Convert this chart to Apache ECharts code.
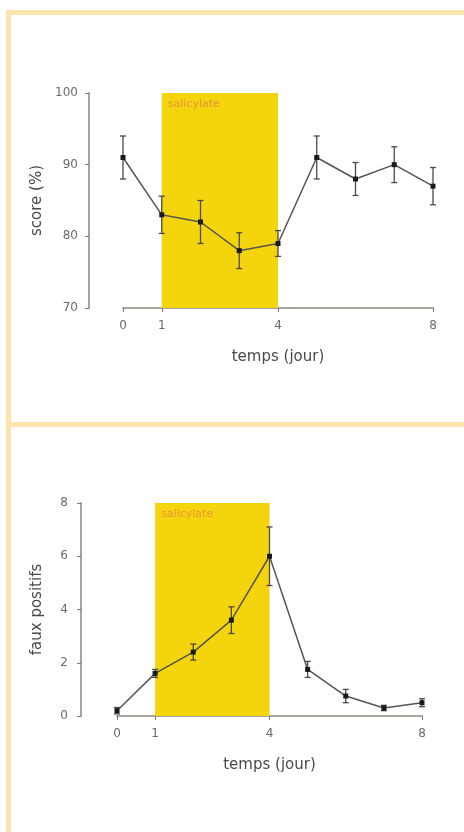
<!DOCTYPE html>
<html>
<head>
<meta charset="utf-8">
<script src="https://cdn.jsdelivr.net/npm/echarts@6.0.0/dist/echarts.min.js"></script>
<style>
  html, body { margin: 0; padding: 0; background: #fff; }
  #wrap { position: relative; width: 464px; height: 832px; overflow: hidden; }
  #chart { position: absolute; left: 0; top: 0; width: 464px; height: 832px; }
  /* cadres orange pâle */
  .bl { position: absolute; left: 6px; top: 10px; width: 5px; height: 822px; background: #fde4ad; }
  .bt { position: absolute; left: 6px; width: 458px; height: 5px; background: #fde4ad; }
</style>
</head>
<body>
<div id="wrap">
  <div id="chart"></div>
  <div class="bl"></div>
  <div class="bt" style="top:10px"></div>
  <div class="bt" style="top:422px"></div>
</div>
<script>
// jours
const days = [0, 1, 2, 3, 4, 5, 6, 7, 8];
const xTicks = [0, 1, 4, 8];
// période sous salicylate
const treatStart = 1;
const treatEnd = 4;
const treatLabel = "salicylate";

// score (%)
const scoreMean = [91, 83, 82, 78, 79, 91, 88, 90, 87];
const scoreErr = [3, 2.6, 3, 2.5, 1.8, 3, 2.3, 2.5, 2.6];

// faux positifs
const fpMean = [0.2, 1.6, 2.4, 3.6, 6.0, 1.75, 0.75, 0.3, 0.5];
const fpErr = [0.12, 0.15, 0.3, 0.5, 1.1, 0.3, 0.25, 0.1, 0.15];

const FONT = "DejaVu Sans";
const axisGray = "#aaa39c";
const textGray = "#6a6a6a";
const yellow = "#f4d40c";

function errRender(params, api) {
  const x = api.value(0);
  const top = api.coord([x, api.value(2)]);
  const bot = api.coord([x, api.value(1)]);
  const w = 3;
  const st = { stroke: "#4a4a4a", lineWidth: 1.3 };
  return {
    type: "group",
    children: [
      { type: "line", shape: { x1: top[0], y1: top[1], x2: bot[0], y2: bot[1] }, style: st },
      { type: "line", shape: { x1: top[0] - w, y1: top[1], x2: top[0] + w, y2: top[1] }, style: st },
      { type: "line", shape: { x1: bot[0] - w, y1: bot[1], x2: bot[0] + w, y2: bot[1] }, style: st },
    ],
  };
}

function xAxisOf(gridIndex) {
  return {
    type: "value",
    gridIndex,
    min: 0,
    max: 8,
    name: "temps (jour)",
    nameLocation: "middle",
    nameGap: 42,
    nameTextStyle: { fontFamily: FONT, fontSize: 15, color: "#4a4a4a" },
    axisLine: { onZero: false, lineStyle: { color: axisGray, width: 2 } },
    axisTick: { show: true, customValues: xTicks, length: 4, lineStyle: { color: "#7a7a7a" } },
    axisLabel: { customValues: xTicks, margin: 12, fontFamily: FONT, fontSize: 12, color: textGray },
    splitLine: { show: false },
  };
}

function yAxisOf(gridIndex, min, max, interval, name, nameGap, offset, margin) {
  return {
    type: "value",
    gridIndex,
    min,
    max,
    interval,
    offset,
    name,
    nameLocation: "middle",
    nameGap,
    nameTextStyle: { fontFamily: FONT, fontSize: 15, color: "#4a4a4a" },
    axisLine: { show: true, onZero: false, lineStyle: { color: axisGray, width: 2 } },
    axisTick: { show: true, length: 4, lineStyle: { color: "#7a7a7a" } },
    axisLabel: { margin, fontFamily: FONT, fontSize: 12, color: textGray },
    splitLine: { show: false },
  };
}

function bandSeries(idx, yData) {
  return {
    type: "line",
    xAxisIndex: idx,
    yAxisIndex: idx,
    data: days.map((d, i) => [d, yData[i]]),
    symbol: "none",
    lineStyle: { opacity: 0 },
    silent: true,
    z: 1,
    markArea: {
      silent: true,
      itemStyle: { color: yellow },
      label: {
        show: true,
        position: "insideTopLeft",
        distance: 6,
        fontFamily: FONT,
        fontSize: 11,
        color: "#e8963a",
      },
      data: [[{ name: treatLabel, xAxis: treatStart }, { xAxis: treatEnd }]],
    },
  };
}

function meanSeries(idx, yData) {
  return {
    type: "line",
    xAxisIndex: idx,
    yAxisIndex: idx,
    data: days.map((d, i) => [d, yData[i]]),
    symbol: "rect",
    symbolSize: 5,
    itemStyle: { color: "#1a1a1a" },
    lineStyle: { color: "#555", width: 1.5 },
    z: 5,
  };
}

function errSeries(idx, yData, eData) {
  return {
    type: "custom",
    xAxisIndex: idx,
    yAxisIndex: idx,
    renderItem: errRender,
    encode: { x: 0, y: [1, 2] },
    data: days.map((d, i) => [d, yData[i] - eData[i], yData[i] + eData[i]]),
    z: 4,
  };
}

const chart = echarts.init(document.getElementById("chart"));
chart.setOption({
  animation: false,
  grid: [
    { left: 123, top: 93, width: 310, height: 215 },
    { left: 117, top: 503, width: 305, height: 213 },
  ],
  xAxis: [xAxisOf(0), xAxisOf(1)],
  yAxis: [
    yAxisOf(0, 70, 100, 10, "score (%)", 43, 34, 11),
    yAxisOf(1, 0, 8, 2, "faux positifs", 36, 36, 13),
  ],
  series: [
    bandSeries(0, scoreMean),
    errSeries(0, scoreMean, scoreErr),
    meanSeries(0, scoreMean),
    bandSeries(1, fpMean),
    errSeries(1, fpMean, fpErr),
    meanSeries(1, fpMean),
  ],
});
</script>
</body>
</html>
